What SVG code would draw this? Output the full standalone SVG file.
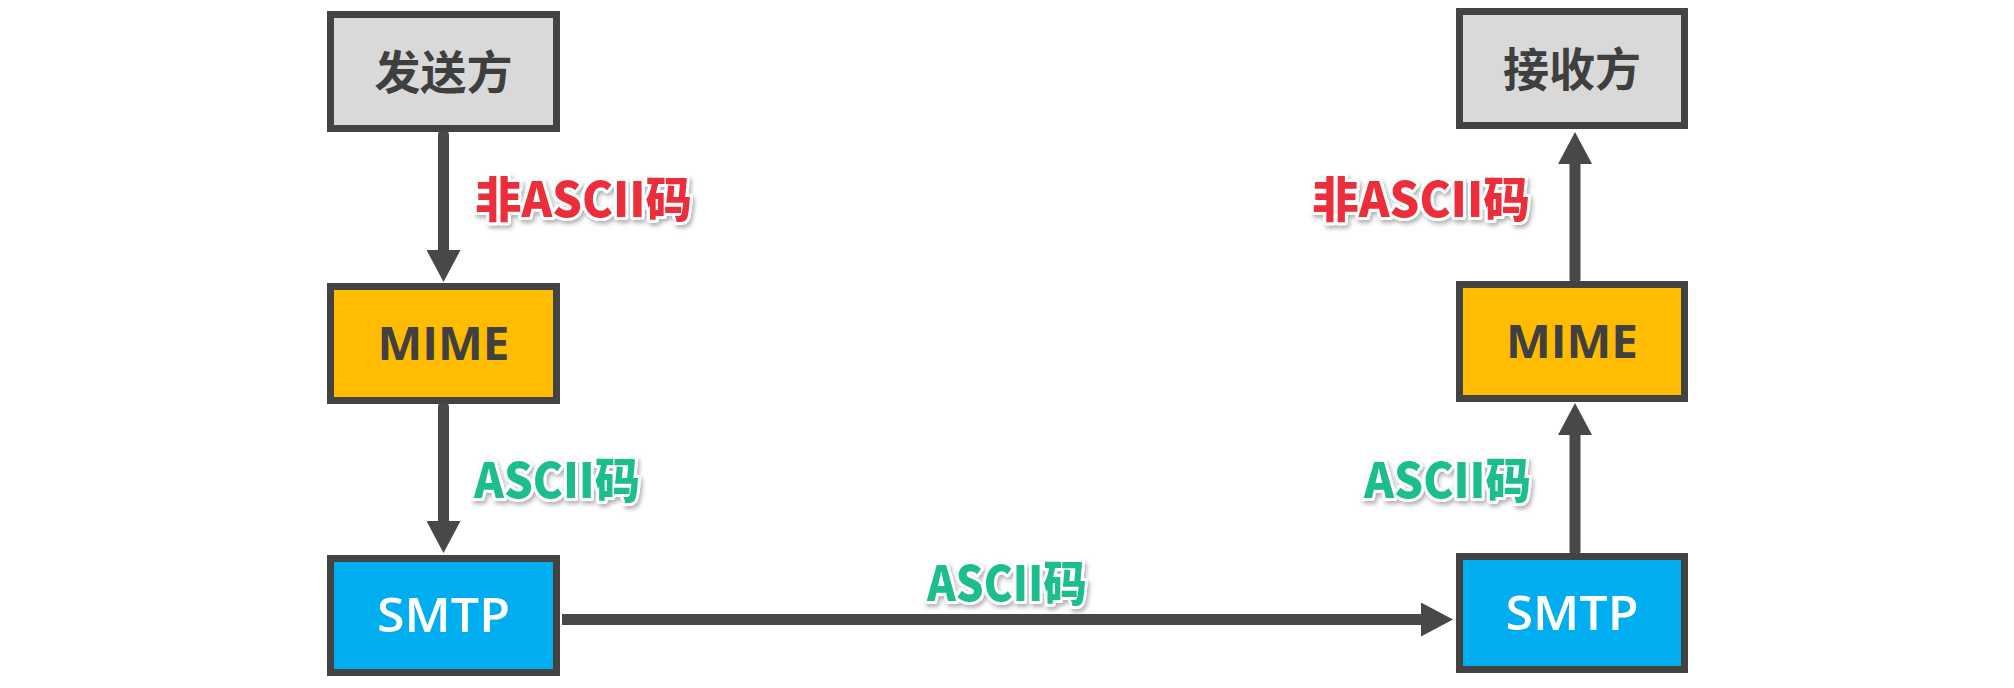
<svg xmlns="http://www.w3.org/2000/svg" width="2014" height="688" viewBox="0 0 2014 688">
  <defs>
    <style>
      .box { stroke: #434343; stroke-width: 7; }
      .gray { fill: #d9d9d9; }
      .mime { fill: #ffbc00; }
      .smtp { fill: #00adee; }
      .node-cjk { font-family: "Noto Sans CJK SC", "Noto Sans", sans-serif; font-weight: 700; font-size: 46px; fill: #3f3f3f; text-anchor: middle; }
      .node-lat { font-family: "Open Sans", "Noto Sans", sans-serif; font-weight: 700; font-size: 47px; text-anchor: middle; }
      .conn { stroke: #484848; stroke-width: 11; fill: none; stroke-linecap: round; }
      .lbl { font-family: "Noto Sans CJK SC", "Noto Sans", sans-serif; font-weight: 900; font-size: 48px; stroke: #ffffff; stroke-width: 6; stroke-linejoin: round; paint-order: stroke fill; filter: url(#sh); }
      .red { fill: #ec2e3b; }
      .green { fill: #1fbe8d; }
    </style>
    <filter id="sh" x="-10%" y="-30%" width="120%" height="170%">
      <feDropShadow dx="2" dy="3" stdDeviation="2" flood-color="#000000" flood-opacity="0.3"/>
    </filter>
    <marker id="ah" markerUnits="userSpaceOnUse" markerWidth="32" markerHeight="34" refX="2" refY="17" orient="auto" viewBox="0 0 32 34">
      <path d="M0,0 L32,17 L0,34 Z" fill="#484848"/>
    </marker>
  </defs>

  <g id="connectors">
    <line class="conn" x1="443.5" y1="135" x2="443.5" y2="252" marker-end="url(#ah)"/>
    <line class="conn" x1="443.5" y1="407" x2="443.5" y2="523" marker-end="url(#ah)"/>
    <line class="conn" x1="562" y1="619.5" x2="1423" y2="619.5" marker-end="url(#ah)" style="stroke-linecap:butt"/>
    <line class="conn" x1="1575" y1="551" x2="1575" y2="433" marker-end="url(#ah)"/>
    <line class="conn" x1="1575" y1="279" x2="1575" y2="162" marker-end="url(#ah)"/>
    <text class="lbl red" x="475" y="217" textLength="217" lengthAdjust="spacingAndGlyphs">非ASCII码</text>
    <text class="lbl green" x="474" y="498" textLength="166" lengthAdjust="spacingAndGlyphs">ASCII码</text>
    <text class="lbl green" x="927" y="601" textLength="160" lengthAdjust="spacingAndGlyphs">ASCII码</text>
    <text class="lbl red" x="1312" y="217" textLength="218" lengthAdjust="spacingAndGlyphs">非ASCII码</text>
    <text class="lbl green" x="1364" y="498" textLength="167" lengthAdjust="spacingAndGlyphs">ASCII码</text>
  </g>

  <g id="sender">
    <rect class="box gray" x="330.5" y="14.5" width="226" height="114"/>
    <text class="node-cjk" x="443.5" y="89">发送方</text>
  </g>
  <g id="mime-left">
    <rect class="box mime" x="330.5" y="286.5" width="226" height="114"/>
    <text class="node-lat" x="443.5" y="360" fill="#404040" textLength="132" lengthAdjust="spacingAndGlyphs">MIME</text>
  </g>
  <g id="smtp-left">
    <rect class="box smtp" x="330.5" y="558.5" width="226" height="114"/>
    <text class="node-lat" x="443.5" y="632" fill="#ffffff" textLength="133" lengthAdjust="spacingAndGlyphs" style="font-weight:600">SMTP</text>
  </g>
  <g id="receiver">
    <rect class="box gray" x="1459.5" y="11.5" width="225" height="114"/>
    <text class="node-cjk" x="1572" y="86">接收方</text>
  </g>
  <g id="mime-right">
    <rect class="box mime" x="1459.5" y="284.5" width="225" height="114"/>
    <text class="node-lat" x="1572" y="358" fill="#404040" textLength="132" lengthAdjust="spacingAndGlyphs">MIME</text>
  </g>
  <g id="smtp-right">
    <rect class="box smtp" x="1459.5" y="556.5" width="225" height="113"/>
    <text class="node-lat" x="1572" y="630" fill="#ffffff" textLength="133" lengthAdjust="spacingAndGlyphs" style="font-weight:600">SMTP</text>
  </g>
</svg>
